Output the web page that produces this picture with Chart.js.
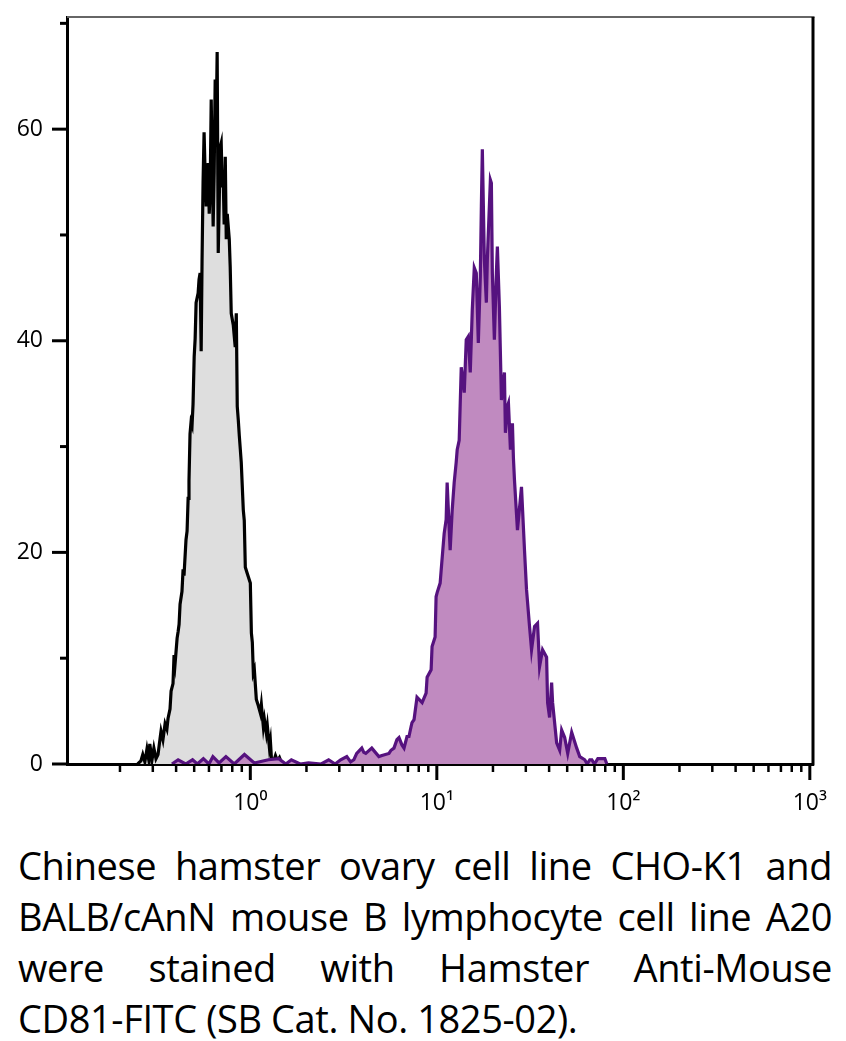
<!DOCTYPE html>
<html>
<head>
<meta charset="utf-8">
<script src="https://cdn.jsdelivr.net/npm/chart.js@4.4.1/dist/chart.umd.min.js"></script>
<style>
  html, body { margin: 0; padding: 0; background: #fff; }
  #wrap { position: absolute; left: 0; top: 0; width: 846px; height: 830px; }
  #cap { position: absolute; left: 18px; top: 840px; width: 814px;
         font-family: 'Open Sans', sans-serif; font-size: 38px; letter-spacing: -0.4px;
         line-height: 51px; color: #000; }
  #cap div { text-align: justify; text-align-last: justify; white-space: nowrap; }
  #cap div.last { text-align-last: left; }
</style>
</head>
<body>
<div id="wrap"><canvas id="c" width="846" height="830"></canvas></div>
<div id="cap">
  <div>Chinese hamster ovary cell line CHO-K1 and</div>
  <div>BALB/cAnN mouse B lymphocyte cell line A20</div>
  <div>were stained with Hamster Anti-Mouse</div>
  <div class="last">CD81-FITC (SB Cat. No. 1825-02).</div>
</div>
<script>
// ---- Data ----
// CHO-K1 (grey) histogram: fluorescence values and event counts
const choX = [0.249,0.259,0.265,0.272,0.279,0.286,0.289,0.297,0.304,0.312,
  0.320,0.328,0.332,0.340,0.349,0.357,0.362,0.371,0.376,0.385,
  0.390,0.395,0.405,0.410,0.415,0.420,0.430,0.436,0.441,0.452,
  0.458,0.464,0.469,0.475,0.481,0.487,0.493,0.500,0.506,0.512,
  0.525,0.531,0.538,0.545,0.551,0.558,0.565,0.573,0.580,0.587,
  0.594,0.602,0.609,0.617,0.624,0.632,0.640,0.648,0.656,0.664,
  0.673,0.681,0.689,0.698,0.707,0.716,0.724,0.734,0.743,0.752,
  0.771,0.780,0.790,0.810,0.830,0.841,0.851,0.862,0.873,0.884,
  0.894,0.917,0.928,0.940,0.963,0.988,1.000,1.013,1.025,1.038,
  1.051,1.077,1.104,1.132,1.146,1.175,1.190,1.219,1.234,1.265,
  1.281,1.298,1.330,1.364,1.398,1.433,1.469,1.506];
const choY = [0,0.3,0.9,0.2,1.4,0.3,1.9,0.4,1.5,0.5,
  0.9,2.4,3.1,2.3,3.8,3.3,4.3,5.2,6.9,7.6,
  10.3,9.5,11.9,12.5,13.2,15.1,16.3,18.4,17.8,21.2,
  22.0,25.1,26.8,31.2,32.3,32.0,34.0,38.5,40.2,43.6,
  44.5,45.8,46.4,39.0,47.5,55.0,59.7,55.5,52.7,54.0,
  56.8,52.0,54.3,62.8,57.0,50.8,56.0,64.7,60.0,67.3,
  48.3,53.0,58.3,58.7,54.5,55.2,51.0,57.4,49.6,52.0,
  49.6,47.0,42.6,41.5,39.4,42.6,33.8,32.5,31.0,29.7,
  28.5,24.0,23.0,18.6,18.0,17.4,17.1,12.4,11.5,8.6,
  8.9,6.1,5.5,4.8,5.6,3.5,4.2,2.9,3.6,1.6,
  2.2,0.5,0.2,0.8,0.3,0.6,0.1,0];

// A20 (purple) histogram
const a20X = [0.38,0.41,0.45,0.49,0.52,0.56,0.60,0.63,0.68,0.74,
  0.82,0.93,1.05,1.25,1.42,1.55,1.66,1.85,2.05,2.4,
  2.63,2.85,3.05,3.29,3.45,3.59,3.72,3.96,4.06,4.16,
  4.48,4.89,5.08,5.54,5.68,5.89,6.11,6.27,6.50,6.67,
  6.92,7.09,7.27,7.36,7.55,7.83,8.03,8.34,8.76,8.87,
  9.32,9.43,9.79,9.91,10.04,10.42,10.55,10.95,11.22,11.36,
  11.79,12.09,12.39,12.70,12.86,13.18,13.52,14.03,14.38,14.74,
  15.11,15.49,15.88,16.28,16.69,17.11,17.33,17.54,17.98,18.43,
  18.66,19.37,19.61,19.85,20.35,20.86,21.12,21.65,22.20,23.04,
  23.32,23.90,24.21,24.81,25.43,25.75,26.07,27.06,28.44,29.52,
  30.26,31.41,32.20,33.42,34.68,35.55,36.90,38.78,39.26,40.24,
  41.26,41.77,43.90,45.57,46.71,48.48,50.33,52.86,56.25,58.39,
  62.13,64.0,66.1,67.8,70.0,73.0,76.0,79.6,81.6];
const a20Y = [0,0.4,0,0.4,0,0.5,0,0.7,0.1,0.7,
  0,0.9,0.1,0.4,0.5,0,0.4,0,0.1,0,
  0.4,0,0.4,0.7,0.2,0.4,1.0,1.5,1.1,1.0,
  1.5,0.7,0.8,1.0,1.3,1.5,2.3,2.5,1.8,1.5,
  2.6,2.6,3.5,3.9,4.2,6.3,6.1,5.8,6.7,8.2,
  8.9,11.1,12.0,15.8,16.2,17.1,18.3,21.8,23.1,26.6,
  20.2,24.0,26.6,28.5,29.7,30.6,37.5,35.1,40.1,40.4,
  37.0,42.9,46.9,46.4,39.8,46.1,52.7,58.1,47.7,43.6,
  47.7,55.2,54.9,46.4,40.1,46.4,48.9,43.2,34.4,37.0,
  31.3,33.8,34.1,29.7,32.2,28.9,26.9,22.1,26.2,20.2,
  16.5,13.0,10.8,13.0,13.3,9.2,10.8,10.1,5.8,4.4,
  7.7,5.8,2.0,1.3,3.2,2.5,1.0,3.0,1.5,0.7,
  0.4,0,0.4,0.4,0,0.5,0.5,0.5,0];

// Axis ticks
const xMajor = [1, 10, 100, 1000];
const xTickLabels = ['10\u2070', '10\u00B9', '10\u00B2', '10\u00B3'];
const xMinor = [0.2,0.3,0.4,0.5,0.6,0.7,0.8,0.9, 2,3,4,5,6,7,8,9,
                20,30,40,50,60,70,80,90, 200,300,400,500,600,700,800,900];
const yMajor = [0, 20, 40, 60];
const yTickLabels = ['0', '20', '40', '60'];
const yMinor = [10, 30, 50, 70];

// ---- Chart ----
const tickFont = { family: "'Open Sans', sans-serif", size: 23 };

const framePlugin = {
  id: 'frame',
  afterDraw(chart) {
    const { ctx, chartArea: a, scales: { x, y } } = chart;
    const seg = (x1, y1, x2, y2, w, col) => {
      ctx.beginPath(); ctx.lineWidth = w; ctx.strokeStyle = col;
      ctx.moveTo(x1, y1); ctx.lineTo(x2, y2); ctx.stroke();
    };
    ctx.save();
    ctx.lineCap = 'butt';
    xMajor.forEach(v => { const p = x.getPixelForValue(v); seg(p, a.bottom, p, a.bottom + 16, 3, '#000'); });
    xMinor.forEach(v => { const p = x.getPixelForValue(v); seg(p, a.bottom, p, a.bottom + 8, 2.5, '#000'); });
    yMajor.forEach(v => { const p = y.getPixelForValue(v); seg(a.left - 15, p, a.left, p, 3, '#000'); });
    yMinor.forEach(v => { const p = y.getPixelForValue(v); seg(a.left - 7, p, a.left, p, 3, '#000'); });
    seg(a.left, a.top, a.right + 1.5, a.top, 2, '#666');
    seg(a.right, a.top, a.right, a.bottom + 1.5, 3, '#000');
    ctx.restore();
  }
};

const zeroPad = s => { s.paddingTop = 0; s.paddingBottom = 0; s.paddingLeft = 0; s.paddingRight = 0; };

new Chart(document.getElementById('c'), {
  type: 'line',
  data: {
    datasets: [
      {
        label: 'A20',
        data: a20X.map((v, i) => ({ x: v, y: a20Y[i] })),
        borderColor: '#56127f',
        backgroundColor: '#c08ac0',
        fill: 'origin',
        borderWidth: 3.2,
        pointRadius: 0,
        tension: 0,
        order: 0
      },
      {
        label: 'CHO-K1',
        data: choX.map((v, i) => ({ x: v, y: choY[i] })),
        borderColor: '#000000',
        backgroundColor: '#dedede',
        fill: 'origin',
        borderWidth: 3.2,
        pointRadius: 0,
        tension: 0,
        order: 1
      }
    ]
  },
  options: {
    responsive: false,
    animation: false,
    devicePixelRatio: 1,
    layout: { autoPadding: false, padding: { top: 17, right: 33, left: 0, bottom: 0 } },
    plugins: { legend: { display: false }, tooltip: { enabled: false } },
    scales: {
      x: {
        type: 'logarithmic',
        min: 0.104,
        max: 1040,
        afterBuildTicks: s => { s.ticks = xMajor.map(v => ({ value: v })); },
        afterFit: s => { s.height = 66; zeroPad(s); },
        ticks: {
          callback: (v, i) => xTickLabels[i],
          font: tickFont, color: '#000', padding: 26,
          maxRotation: 0, autoSkip: false
        },
        grid: { display: true, drawOnChartArea: false, drawTicks: false },
        border: { display: true, color: '#000', width: 3 }
      },
      y: {
        type: 'linear',
        min: 0,
        max: 70.6,
        afterBuildTicks: s => { s.ticks = yMajor.map(v => ({ value: v })); },
        afterFit: s => { s.width = 67; zeroPad(s); },
        ticks: {
          callback: (v, i) => yTickLabels[i],
          font: tickFont, color: '#000', padding: 24, autoSkip: false
        },
        grid: { display: true, drawOnChartArea: false, drawTicks: false },
        border: { display: true, color: '#000', width: 3 }
      }
    }
  },
  plugins: [framePlugin]
});
</script>
</body>
</html>
